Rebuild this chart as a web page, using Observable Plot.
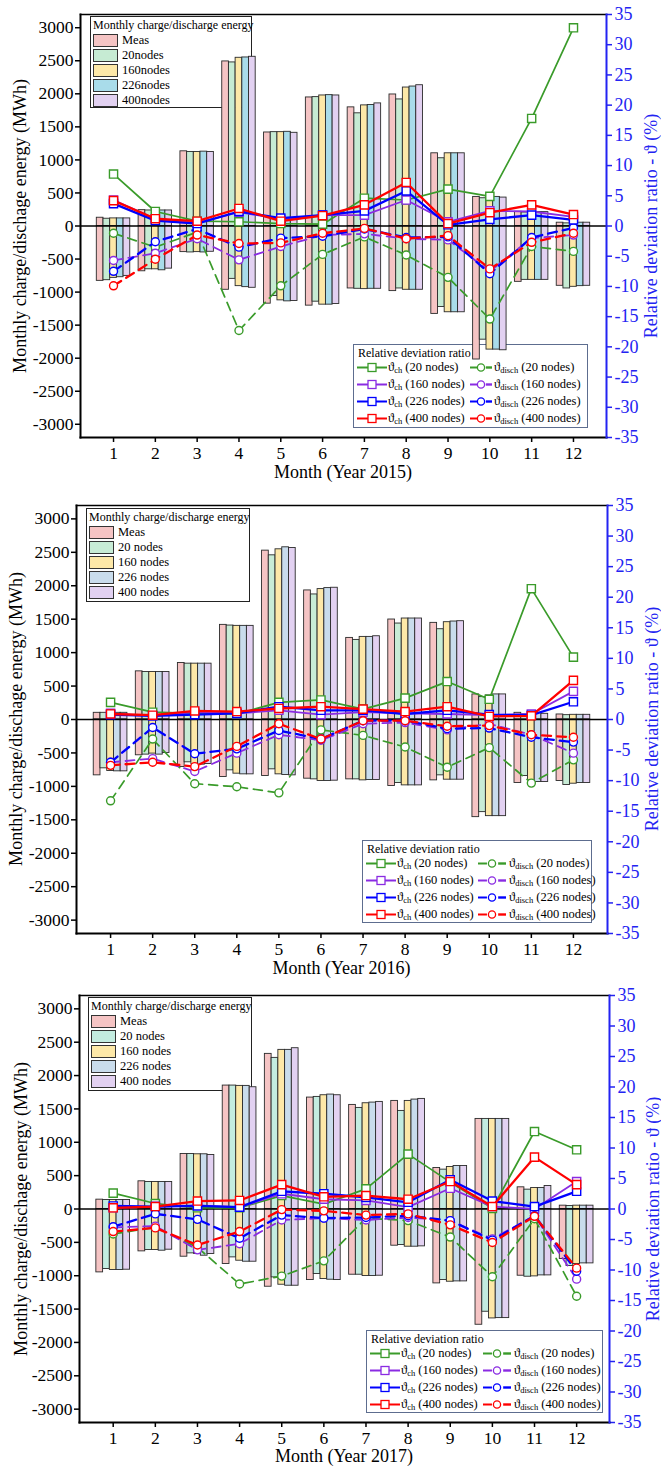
<!DOCTYPE html>
<html>
<head>
<meta charset="utf-8">
<script src="https://cdn.jsdelivr.net/npm/d3@7"></script>
<script src="https://cdn.jsdelivr.net/npm/@observablehq/plot@0.6"></script>
<style>
  body { margin: 0; background: #fff; font-family: 'Liberation Serif', 'Times New Roman', serif; }
  #root { position: relative; width: 661px; height: 1466px; overflow: hidden; background: #fff; }
  .panel { position: absolute; left: 0; width: 661px; }
  .panel > svg { position: absolute; left: 0; top: 0; z-index: 2; }
  .vtitle { position: absolute; white-space: nowrap; font-size: 18px; transform: translate(-50%, -50%) rotate(-90deg); }
  .xtitle { position: absolute; white-space: nowrap; font-size: 18px; transform: translate(-50%, -50%); }
  .blegend { position: absolute; z-index: 1; background: #fff; border: 1px solid #222; box-sizing: border-box; font-size: 12.5px; }
  .blegend .t { position: absolute; left: 2px; top: 1px; font-size: 12px; white-space: nowrap; }
  .blegend .r { position: absolute; left: 0; height: 15px; white-space: nowrap; }
  .blegend .sw { position: absolute; left: 2px; top: 1px; width: 25px; height: 13px; box-sizing: border-box; border: 1px solid #333; }
  .blegend .lab { position: absolute; left: 31px; top: 0; line-height: 15px; }
  .dlegend { position: absolute; z-index: 1; background: #fff; border: 1px solid #5d6d8f; box-sizing: border-box; font-size: 12.5px; }
  .dlegend .t { position: absolute; left: 4px; top: 1px; font-size: 12px; white-space: nowrap; }
  .dlegend .r { position: absolute; left: 0; height: 17px; width: 100%; }
  .dlegend svg { position: absolute; top: 0; }
  .dlegend .lab { position: absolute; top: 0; line-height: 17px; white-space: nowrap; }
  .dlegend sub { font-size: 8.5px; vertical-align: -2px; line-height: 0; }
</style>
</head>
<body>
<div id="root"></div>
<script>
// ---------------- DATA ----------------
const months = [1, 2, 3, 4, 5, 6, 7, 8, 9, 10, 11, 12];
const barNames2015 = ["Meas", "20nodes", "160nodes", "226nodes", "400nodes"];
const barNames = ["Meas", "20 nodes", "160 nodes", "226 nodes", "400 nodes"];
const nodeLabels = ["20 nodes", "160 nodes", "226 nodes", "400 nodes"];
const leftTicks = [-3000, -2500, -2000, -1500, -1000, -500, 0, 500, 1000, 1500, 2000, 2500, 3000];
const rightTicks = [-35, -30, -25, -20, -15, -10, -5, 0, 5, 10, 15, 20, 25, 30, 35];
const years = ["2015", "2016", "2017"];

// Monthly charge energy (MWh), one row per month: [Meas, 20, 160, 226, 400 nodes]
const charge2015 = [
  [125, 110, 115, 115, 115], [240, 235, 235, 235, 235], [1130, 1120, 1120, 1125, 1120],
  [2490, 2475, 2545, 2550, 2560], [1415, 1420, 1420, 1425, 1410], [1945, 1950, 1975, 1980, 1975],
  [1795, 1705, 1825, 1830, 1855], [1990, 1915, 2095, 2110, 2130], [1100, 1025, 1100, 1100, 1100],
  [440, 420, 440, 440, 430], [215, 205, 210, 210, 210], [50, 40, 50, 50, 50]
];
const discharge2015 = [
  [-830, -820, -785, -775, -755], [-685, -655, -655, -670, -645], [-395, -400, -395, -400, -390],
  [-965, -800, -910, -925, -935], [-1175, -1060, -1125, -1140, -1135], [-1205, -1145, -1190, -1190, -1180],
  [-945, -950, -955, -950, -950], [-985, -945, -965, -965, -965], [-1330, -1225, -1305, -1305, -1305],
  [-2020, -1720, -1870, -1870, -1880], [-845, -815, -815, -815, -815], [-905, -945, -920, -910, -905]
];
const charge2016 = [
  [100, 100, 100, 100, 100], [720, 710, 710, 710, 710], [845, 835, 835, 835, 835],
  [1415, 1405, 1400, 1400, 1400], [2525, 2455, 2545, 2575, 2565], [1930, 1870, 1950, 1965, 1970],
  [1220, 1190, 1235, 1235, 1245], [1495, 1435, 1510, 1510, 1510], [1445, 1350, 1455, 1465, 1470],
  [375, 335, 360, 375, 375], [100, 75, 85, 100, 85], [75, 65, 70, 70, 70]
];
const discharge2016 = [
  [-835, -730, -770, -775, -775], [-535, -525, -510, -525, -500], [-710, -640, -665, -675, -665],
  [-860, -760, -810, -820, -820], [-845, -745, -820, -830, -835], [-885, -895, -920, -920, -915],
  [-895, -895, -910, -905, -905], [-995, -950, -985, -985, -985], [-910, -835, -900, -900, -900],
  [-1460, -1385, -1445, -1445, -1445], [-950, -845, -910, -935, -935], [-920, -980, -960, -950, -950]
];
const charge2017 = [
  [140, 135, 135, 135, 135], [415, 405, 405, 405, 405], [825, 825, 820, 820, 810],
  [1850, 1850, 1845, 1845, 1825], [2325, 2265, 2385, 2385, 2410], [1670, 1680, 1705, 1715, 1705],
  [1560, 1515, 1585, 1595, 1605], [1620, 1470, 1620, 1640, 1650], [615, 590, 630, 645, 645],
  [1350, 1350, 1350, 1350, 1350], [325, 290, 315, 315, 345], [50, 45, 50, 50, 50]
];
const discharge2017 = [
  [-950, -900, -915, -915, -910], [-635, -615, -615, -625, -610], [-715, -665, -675, -700, -675],
  [-825, -725, -775, -790, -790], [-1165, -1025, -1135, -1150, -1150], [-1065, -975, -1050, -1060, -1065],
  [-985, -985, -1005, -1005, -1000], [-550, -540, -565, -565, -560], [-1115, -1065, -1090, -1085, -1085],
  [-1735, -1540, -1640, -1635, -1635], [-1000, -1015, -1010, -995, -995], [-750, -855, -825, -815, -815]
];

// Relative deviation ratio (%), one row per model: [20, 160, 226, 400 nodes]
const ratioCh2015 = [
  [8.6, 2.4, 0.8, 0.7, 0.4, 0.3, 4.6, 4.3, 6.1, 4.9, 17.8, 32.8],
  [4.3, 1.2, 0.5, 2.3, 1.1, 1.8, 1.8, 4.3, 0.7, 2.5, 2.4, 1.5],
  [3.7, 0.9, 0.4, 2.4, 1.3, 1.8, 2.5, 5.8, 0.2, 1.1, 1.8, 1.0],
  [4.2, 1.2, 0.8, 2.9, 0.8, 1.7, 3.5, 7.2, 0.4, 2.2, 3.5, 1.9]
];
const ratioDis2015 = [
  [-1.2, -3.5, -1.0, -17.3, -9.9, -4.7, -1.8, -4.8, -8.5, -15.4, -3.4, -4.2],
  [-5.7, -4.5, -2.1, -5.6, -3.4, -1.5, -1.3, -2.1, -2.3, -7.5, -2.0, -1.5],
  [-7.5, -2.6, -0.5, -3.5, -2.0, -1.7, -0.5, -1.9, -1.8, -7.9, -1.9, -0.3],
  [-9.9, -5.5, -1.5, -2.9, -2.8, -1.2, -0.4, -2.1, -1.6, -7.1, -2.7, -1.2]
];
const ratioCh2016 = [
  [2.8, 1.2, 1.0, 0.9, 2.8, 3.2, 1.7, 3.5, 6.2, 3.3, 21.4, 10.2],
  [1.0, 0.6, 1.2, 1.0, 1.5, 0.8, 1.2, 1.0, 0.9, 0.7, 0.9, 4.6],
  [0.8, 0.6, 0.8, 1.0, 2.1, 1.5, 1.5, 0.9, 1.5, 0.8, 0.7, 2.9],
  [0.9, 0.7, 1.4, 1.3, 1.8, 2.1, 1.7, 1.3, 2.1, 0.5, 0.6, 6.4]
];
const ratioDis2016 = [
  [-13.3, -3.2, -10.5, -11.0, -12.0, -1.7, -2.6, -4.5, -7.8, -4.6, -10.4, -6.6],
  [-7.0, -6.4, -8.5, -5.5, -2.5, -3.4, -0.7, -0.5, -1.7, -0.7, -2.5, -5.5],
  [-7.0, -1.3, -5.6, -4.8, -1.8, -3.2, -0.2, -0.2, -1.5, -1.4, -2.9, -3.7],
  [-7.5, -7.0, -7.7, -4.4, -0.7, -3.2, -0.2, -0.2, -1.1, -1.0, -2.5, -2.9]
];
const ratioCh2017 = [
  [2.6, 0.9, 0.2, 0.2, 2.2, 0.8, 3.3, 9.0, 4.4, 0.1, 12.7, 9.7],
  [0.2, 0.4, 0.6, 0.3, 2.5, 1.6, 1.4, 0.3, 3.4, 0.4, 0.0, 4.5],
  [0.5, 0.4, 0.5, 0.3, 2.9, 2.5, 1.9, 1.1, 4.8, 1.3, 0.4, 2.9],
  [0.2, 0.4, 1.3, 1.4, 4.0, 2.0, 2.2, 1.6, 4.5, 0.4, 8.5, 4.0]
];
const ratioDis2017 = [
  [-4.1, -3.0, -6.3, -12.3, -11.0, -8.5, -1.5, -1.9, -4.6, -11.1, -1.6, -14.3],
  [-3.0, -2.8, -6.7, -5.7, -1.8, -1.5, -1.8, -1.4, -1.9, -4.9, -1.1, -11.5],
  [-2.9, -0.8, -1.7, -4.8, -1.0, -1.5, -1.4, -1.1, -1.9, -5.1, -1.1, -10.2],
  [-3.7, -3.1, -5.9, -3.7, -0.1, -0.3, -1.0, -0.8, -2.6, -5.5, -1.2, -9.7]
];

// ---------------- STYLE ----------------
const barColors2015 = ["#f5c4c4", "#c6ebd3", "#fde8a8", "#a9dcea", "#e2d1f1"];
const barColors2016 = ["#f5c4c4", "#c8ecd6", "#fde8a8", "#c9dcec", "#e2d1f1"];
const barColors2017 = ["#f5c4c4", "#c3ece0", "#fde8a8", "#c9dcec", "#e2d1f1"];
const lineColors = ["#3a9b2a", "#8a2be2", "#0000ff", "#ff0000"];
const lineWidths = [1.7, 1.8, 2.3, 2.3];
const axisBlue = "#2323f2";
const K = 3200 / 35; // ratio -> left-axis units

const panels = [
  { year: years[0], top: 0, height: 490, m: { t: 14, b: 53, l: 80, r: 55 }, xd: [0.21, 12.79],
    charge: charge2015, discharge: discharge2015, rc: ratioCh2015, rd: ratioDis2015,
    colors: barColors2015, names: barNames2015,
    bl: { left: 90, top: 16, w: 162, h: 92 }, dl: { left: 353, top: 344, w: 235, h: 84, c2: 116, c2w: 22, c2t: 140 },
    yt: 20, rt: 651, xt: 472 },
  { year: years[1], top: 490, height: 490, m: { t: 15, b: 47, l: 76, r: 54 }, xd: [0.19, 12.81],
    charge: charge2016, discharge: discharge2016, rc: ratioCh2016, rd: ratioDis2016,
    colors: barColors2016, names: barNames,
    bl: { left: 86, top: 18, w: 164, h: 94 }, dl: { left: 362, top: 350, w: 230, h: 83, c2: 115, c2w: 28, c2t: 146 },
    yt: 16, rt: 652, xt: 478 },
  { year: years[2], top: 980, height: 486, m: { t: 15, b: 44, l: 79, r: 52 }, xd: [0.2, 12.78],
    charge: charge2017, discharge: discharge2017, rc: ratioCh2017, rd: ratioDis2017,
    colors: barColors2017, names: barNames,
    bl: { left: 88, top: 17, w: 164, h: 94 }, dl: { left: 366, top: 350, w: 237, h: 83, c2: 116, c2w: 28, c2t: 147 },
    yt: 21, rt: 653, xt: 476 }
];

const root = document.getElementById("root");

function drawPanel(p) {
  const el = document.createElement("div");
  el.className = "panel";
  el.style.top = p.top + "px";
  el.style.height = p.height + "px";
  root.appendChild(el);

  const bars = [];
  months.forEach((mo, mi) => {
    for (let s = 0; s < 5; s++) {
      bars.push({ month: mo, s, v: p.charge[mi][s] });
      bars.push({ month: mo, s, v: p.discharge[mi][s] });
    }
  });

  const marks = [];
  for (let s = 0; s < 5; s++) {
    marks.push(Plot.rect(bars.filter(d => d.s === s), {
      x1: d => d.month - 0.4 + 0.16 * d.s,
      x2: d => d.month - 0.24 + 0.16 * d.s,
      y1: 0, y2: "v",
      fill: p.colors[s], stroke: "#2a2a2a", strokeWidth: 0.9
    }));
  }
  marks.push(Plot.ruleY([0], { stroke: "black", strokeWidth: 1.6 }));

  for (let i = 0; i < 4; i++) {
    const dch = months.map((mo, j) => ({ month: mo, r: p.rc[i][j] }));
    const ddi = months.map((mo, j) => ({ month: mo, r: p.rd[i][j] }));
    marks.push(Plot.line(ddi, { x: "month", y: d => d.r * K, stroke: lineColors[i], strokeWidth: lineWidths[i], strokeDasharray: "9,6" }));
    marks.push(Plot.line(dch, { x: "month", y: d => d.r * K, stroke: lineColors[i], strokeWidth: lineWidths[i] }));
    marks.push(Plot.dot(ddi, { x: "month", y: d => d.r * K, symbol: "circle", r: 4, fill: "white", stroke: lineColors[i], strokeWidth: 1.4 }));
    marks.push(Plot.dot(dch, { x: "month", y: d => d.r * K, symbol: "square", r: 4.6, fill: "white", stroke: lineColors[i], strokeWidth: 1.4 }));
  }

  marks.push(Plot.axisY(leftTicks, { anchor: "left", tickSize: 5, tickPadding: 2, strokeWidth: 1.5, fontSize: 17.5, tickFormat: d => String(d), label: null }));
  marks.push(Plot.axisY(rightTicks.map(r => r * K), { anchor: "right", tickSize: 5, tickPadding: 3, strokeWidth: 1.5, fontSize: 18, color: axisBlue, tickFormat: d => String(Math.round(d / K)), label: null }));
  marks.push(Plot.axisX(months, { anchor: "bottom", tickSize: 5, tickPadding: 4, strokeWidth: 1.5, fontSize: 17.5, tickFormat: d => String(d), label: null }));
  marks.push(Plot.frame({ anchor: "top", stroke: "black", strokeWidth: 1.5 }));
  marks.push(Plot.frame({ anchor: "bottom", stroke: "black", strokeWidth: 2 }));
  marks.push(Plot.frame({ anchor: "left", stroke: "black", strokeWidth: 2 }));
  marks.push(Plot.frame({ anchor: "right", stroke: axisBlue, strokeWidth: 2 }));

  const svg = Plot.plot({
    width: 661, height: p.height,
    marginTop: p.m.t, marginBottom: p.m.b, marginLeft: p.m.l, marginRight: p.m.r,
    x: { type: "linear", domain: p.xd },
    y: { type: "linear", domain: [-3200, 3200] },
    style: { fontFamily: "'Liberation Serif', 'Times New Roman', serif", background: "transparent", color: "black", overflow: "visible" },
    marks
  });

  // bar legend (drawn beneath the plot so bars overlap it, as in the original)
  const bl = document.createElement("div");
  bl.className = "blegend";
  bl.style.cssText = `left:${p.bl.left}px;top:${p.bl.top}px;width:${p.bl.w}px;height:${p.bl.h}px`;
  let bh = `<div class="t">Monthly charge/discharge energy</div>`;
  p.names.forEach((n, s) => {
    bh += `<div class="r" style="top:${16 + s * 15}px"><span class="sw" style="background:${p.colors[s]}"></span><span class="lab">${n}</span></div>`;
  });
  bl.innerHTML = bh;
  el.appendChild(bl);

  // deviation legend
  const dl = document.createElement("div");
  dl.className = "dlegend";
  dl.style.cssText = `left:${p.dl.left}px;top:${p.dl.top}px;width:${p.dl.w}px;height:${p.dl.h}px`;
  let dh = `<div class="t">Relative deviation ratio</div>`;
  nodeLabels.forEach((lab, i) => {
    const c = lineColors[i];
    const w2 = p.dl.c2w;
    dh += `<div class="r" style="top:${14 + i * 17}px">
      <svg style="left:3px" width="30" height="17"><line x1="0" x2="30" y1="8.5" y2="8.5" stroke="${c}" stroke-width="2"/><rect x="11" y="4.5" width="8" height="8" fill="white" stroke="${c}" stroke-width="1.3"/></svg>
      <span class="lab" style="left:34px">\u03D1<sub>ch</sub> (${lab})</span>
      <svg style="left:${p.dl.c2}px" width="${w2}" height="17"><line x1="0" x2="${w2 * 0.32}" y1="8.5" y2="8.5" stroke="${c}" stroke-width="2"/><circle cx="${w2 * 0.5}" cy="8.5" r="3.6" fill="white" stroke="${c}" stroke-width="1.3"/><line x1="${w2 * 0.72}" x2="${w2}" y1="8.5" y2="8.5" stroke="${c}" stroke-width="2.4"/></svg>
      <span class="lab" style="left:${p.dl.c2t}px">\u03D1<sub>disch</sub> (${lab})</span></div>`;
  });
  dl.innerHTML = dh;
  el.appendChild(dl);

  el.appendChild(svg);

  // axis titles
  const plotH = p.height - p.m.t - p.m.b;
  const cy = p.m.t + plotH / 2;
  const yt = document.createElement("div");
  yt.className = "vtitle";
  yt.style.left = p.yt + "px"; yt.style.top = cy + "px";
  yt.textContent = "Monthly charge/dischage energy (MWh)";
  el.appendChild(yt);
  const rt = document.createElement("div");
  rt.className = "vtitle";
  rt.style.left = p.rt + "px"; rt.style.top = cy + "px"; rt.style.color = axisBlue;
  rt.textContent = "Relative deviation ratio - \u03D1 (%)";
  el.appendChild(rt);
  const xt = document.createElement("div");
  xt.className = "xtitle";
  xt.style.left = (p.m.l + (661 - p.m.l - p.m.r) / 2) + "px"; xt.style.top = p.xt + "px";
  xt.textContent = "Month (Year " + p.year + ")";
  el.appendChild(xt);
}

panels.forEach(drawPanel);
</script>
</body>
</html>
